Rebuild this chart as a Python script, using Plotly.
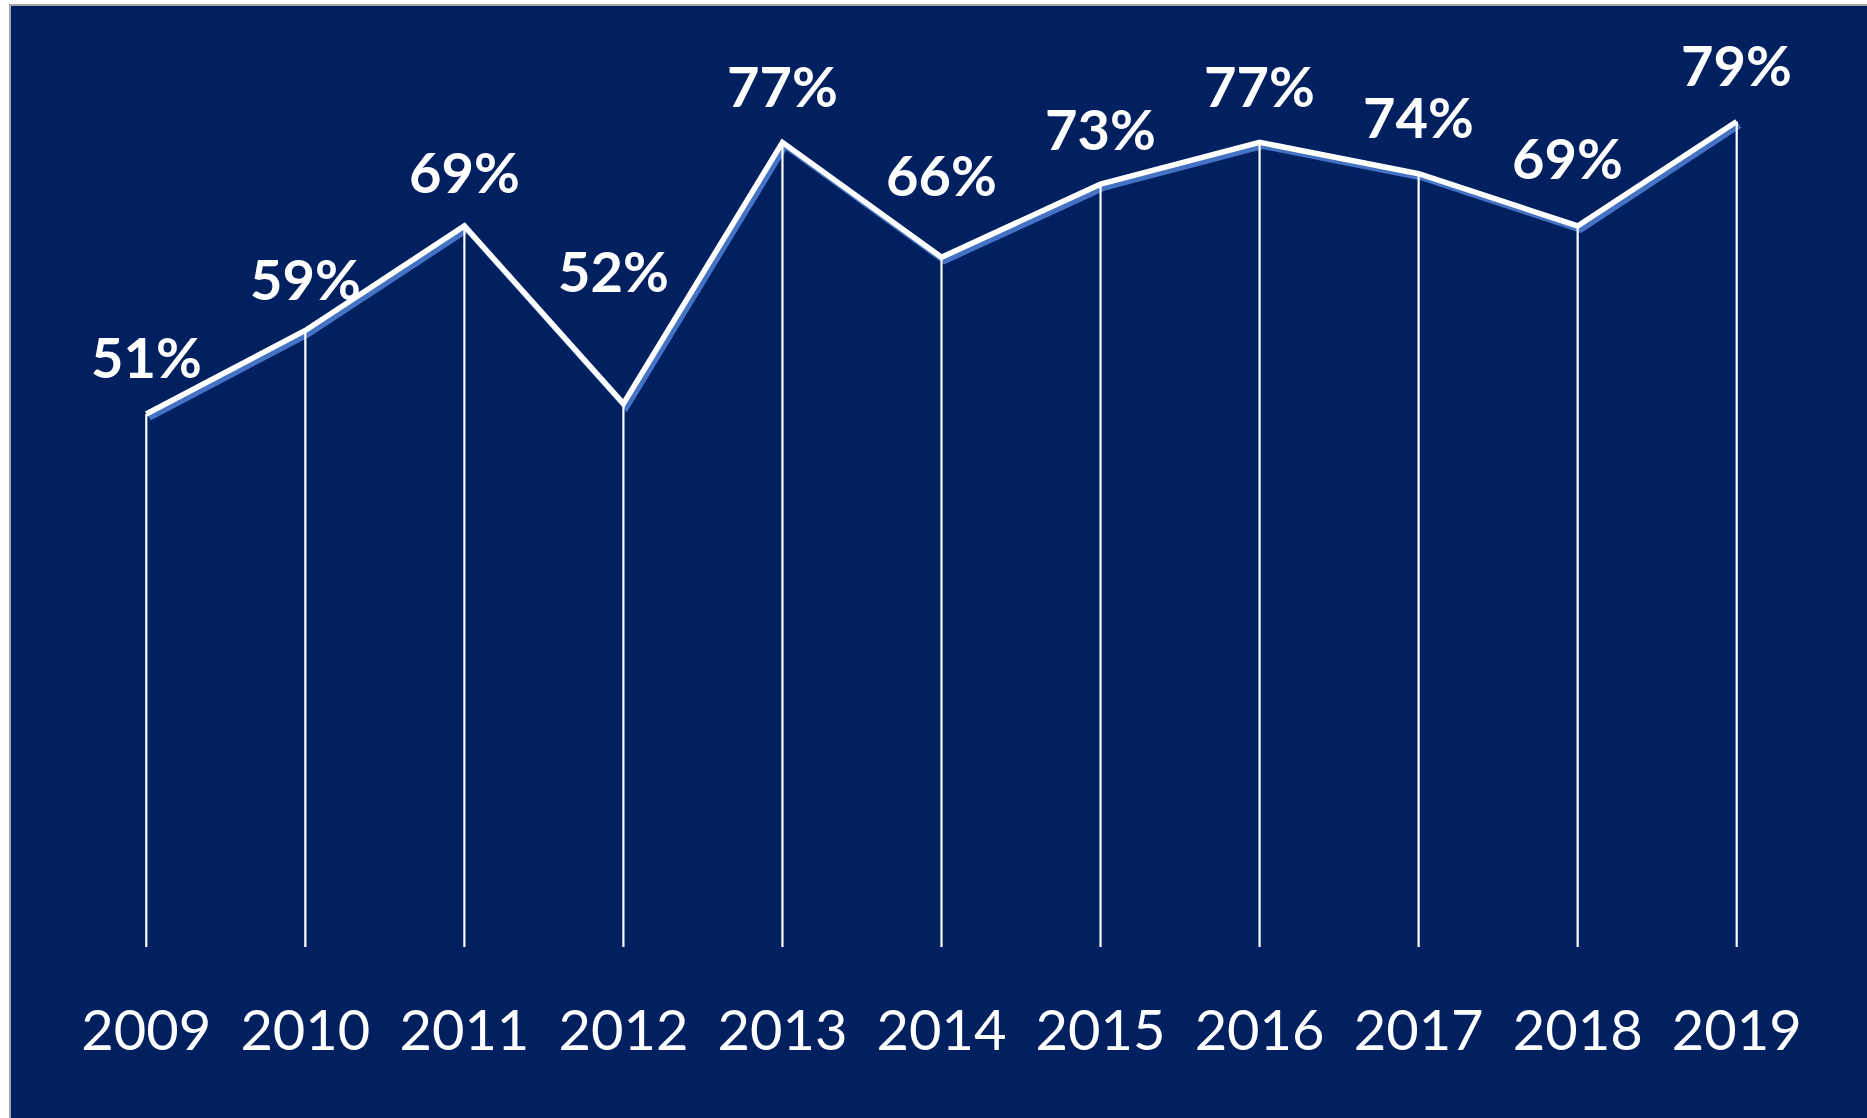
import plotly.graph_objects as go

# ---- data ----
years = [2009, 2010, 2011, 2012, 2013, 2014, 2015, 2016, 2017, 2018, 2019]
values = [51, 59, 69, 52, 77, 66, 73, 77, 74, 69, 79]
value_labels = ["51%", "59%", "69%", "52%", "77%", "66%", "73%", "77%", "74%", "69%", "79%"]
year_labels = ["2009", "2010", "2011", "2012", "2013", "2014", "2015", "2016", "2017", "2018", "2019"]

# ---- label placement (style) ----
label_dy = [58, 52, 54, 133, 57, 83, 56, 57, 57, 68, 57]
label_dx = [0, 0, 0, -10, 0, 0, 0, 0, 0, -10, 0]

# ---- layout geometry ----
W, H = 1867, 1118
x_first_px, pitch = 146.3, 159.04
y_zero_px, px_per = 947.0, 10.45
NAVY = "#002060"
SHADOW = "#4472C4"
FONT = "Lato"

xr = [years[0] - x_first_px / pitch, years[0] + (W - x_first_px) / pitch]
ydom = [(H - y_zero_px) / H, 1]
yr = [0, y_zero_px / px_per]
sdx, sdy = 3, 4
xr_sh = [xr[0] - sdx / pitch, xr[1] - sdx / pitch]
yr_sh = [yr[0] + sdy / px_per, yr[1] + sdy / px_per]

fig = go.Figure()

# shadow line (main axes, offset range)
fig.add_trace(go.Scatter(x=years, y=values, mode="lines",
                         line=dict(color=SHADOW, width=5.5),
                         xaxis="x", yaxis="y", hoverinfo="skip", showlegend=False))
# drop lines
fig.add_trace(go.Scatter(x=years, y=values, mode="markers",
                         marker=dict(size=1, opacity=0),
                         error_y=dict(type="data", symmetric=False,
                                      array=[0] * len(values), arrayminus=values,
                                      width=0, thickness=2.2, color="white"),
                         xaxis="x2", yaxis="y2", hoverinfo="skip", showlegend=False))
# main white line
fig.add_trace(go.Scatter(x=years, y=values, mode="lines",
                         line=dict(color="white", width=5.5),
                         xaxis="x2", yaxis="y2", showlegend=False))

for yr_, v, t, dy, dx in zip(years, values, value_labels, label_dy, label_dx):
    fig.add_annotation(x=yr_, y=v, xref="x2", yref="y2", text=t,
                       showarrow=False, yshift=dy, xshift=dx,
                       xanchor="center", yanchor="middle",
                       font=dict(family=FONT, size=56, color="white", weight="bold"))

fig.update_layout(
    width=W, height=H,
    margin=dict(l=0, r=0, t=0, b=0),
    paper_bgcolor="white", plot_bgcolor="rgba(0,0,0,0)",
    xaxis=dict(domain=[0, 1], range=xr_sh, visible=False),
    yaxis=dict(domain=ydom, range=yr_sh, visible=False),
    xaxis2=dict(domain=[0, 1], range=xr, overlaying="x", anchor="y2",
                showgrid=False, zeroline=False, showline=False, ticks="",
                tickmode="array", tickvals=years, ticktext=year_labels,
                tickfont=dict(family=FONT, size=56, color="white"),
                ticklabelstandoff=46),
    yaxis2=dict(domain=ydom, range=yr, overlaying="y", anchor="x2", visible=False),
    shapes=[dict(type="rect", xref="paper", yref="paper",
                 x0=10 / W, x1=1.02, y0=-0.02, y1=1 - 5 / H,
                 fillcolor=NAVY, line=dict(color="#A6A6A6", width=2), layer="below")],
)

fig.write_html("out.html")
